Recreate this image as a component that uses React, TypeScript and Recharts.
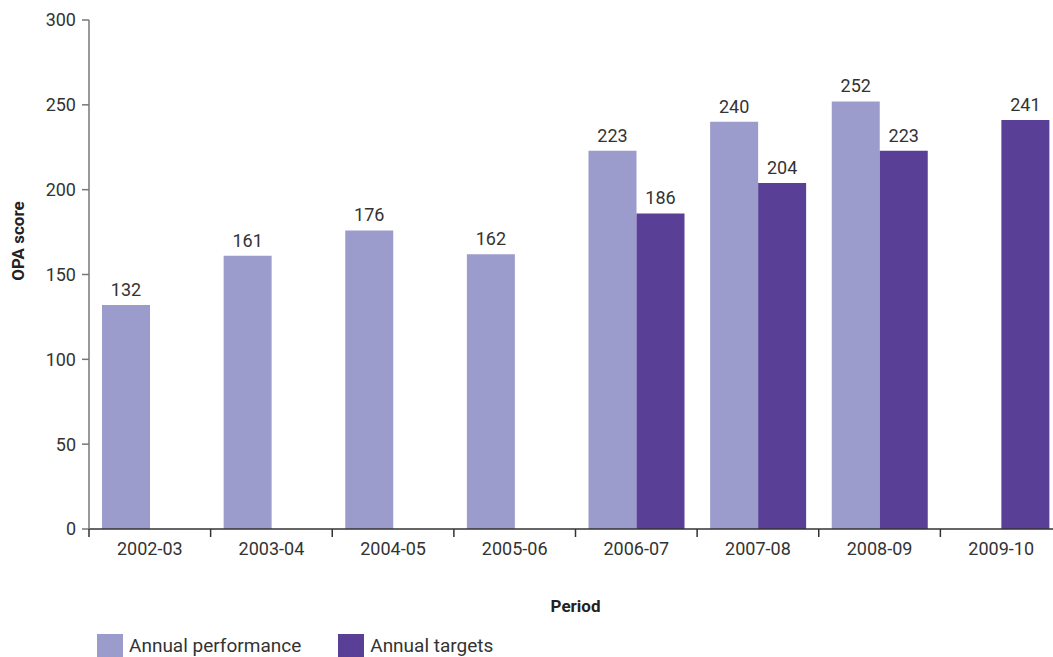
import { BarChart, Bar, XAxis, YAxis, LabelList } from 'recharts';

const periods = ['2002-03', '2003-04', '2004-05', '2005-06', '2006-07', '2007-08', '2008-09', '2009-10'];
const performance = [132, 161, 176, 162, 223, 240, 252, null];
const targets = [null, null, null, null, 186, 204, 223, 241];
const yTicks = [0, 50, 100, 150, 200, 250, 300];

const LIGHT = '#9b9ccc';
const DARK = '#5a3f97';
const TEXT = '#333333';
const FONT = 'Roboto, sans-serif';

const data = periods.map((period, i) => ({
  period,
  performance: performance[i],
  targets: targets[i],
}));

const TICK_SIZE = 8;
const TICK_MARGIN = 5;

const XTick = (props: any) => {
  const { x, y, payload } = props;
  const left = x - (payload.offset ?? 0);
  const axisY = y - TICK_SIZE - TICK_MARGIN;
  return (
    <g>
      <line x1={left} x2={left} y1={axisY} y2={axisY + TICK_SIZE} stroke={TEXT} strokeWidth={1.5} />
      <text x={x} y={y} dy="0.71em" textAnchor="middle" fill={TEXT} fontSize={18} fontFamily={FONT}>
        {payload.value}
      </text>
    </g>
  );
};

const YLabel = () => (
  <text
    x={18}
    y={241}
    transform="rotate(-90 18 241)"
    textAnchor="middle"
    dominantBaseline="central"
    fontSize={17}
    fontWeight={700}
    fontFamily={FONT}
    fill="#222"
  >
    OPA score
  </text>
);

const legendItems = [
  { name: 'Annual performance', color: LIGHT },
  { name: 'Annual targets', color: DARK },
];

export default function App() {
  return (
    <div style={{ position: 'fixed', left: 0, top: 0, width: 1053, height: 657, overflow: 'hidden', background: '#fff' }}>
      <BarChart
        width={1070}
        height={657}
        data={data}
        margin={{ top: 20, right: 8, left: 29, bottom: 38 }}
        barGap={0}
        barSize={48}
      >
        <XAxis
          dataKey="period"
          height={90}
          tick={<XTick />}
          tickLine={false}
          tickSize={TICK_SIZE}
          tickMargin={TICK_MARGIN}
          axisLine={{ stroke: TEXT, strokeWidth: 1.5 }}
          interval={0}
          label={{
            value: 'Period',
            position: 'insideBottom',
            offset: 7,
            fontSize: 17,
            fontWeight: 700,
            fontFamily: FONT,
            fill: '#222',
          }}
        />
        <YAxis
          width={60}
          domain={[0, 300]}
          ticks={yTicks}
          tickSize={7}
          tickMargin={6}
          axisLine={{ stroke: '#777', strokeWidth: 1.5 }}
          tickLine={{ stroke: '#777', strokeWidth: 1.5 }}
          tick={{ fill: TEXT, fontSize: 18, fontFamily: FONT }}
          label={{ content: () => <YLabel /> }}
        />
        <Bar dataKey="performance" name="Annual performance" fill={LIGHT} isAnimationActive={false}>
          <LabelList dataKey="performance" position="top" offset={9} fill={TEXT} fontSize={18} fontFamily={FONT} />
        </Bar>
        <Bar dataKey="targets" name="Annual targets" fill={DARK} isAnimationActive={false}>
          <LabelList dataKey="targets" position="top" offset={9} fill={TEXT} fontSize={18} fontFamily={FONT} />
        </Bar>
      </BarChart>
      <div
        style={{
          position: 'absolute',
          left: 97,
          top: 634,
          display: 'flex',
          alignItems: 'center',
          fontFamily: FONT,
          fontSize: 19,
          color: TEXT,
        }}
      >
        {legendItems.map((item) => (
          <span key={item.name} style={{ display: 'flex', alignItems: 'center', marginRight: 37 }}>
            <span style={{ width: 26, height: 23, background: item.color, marginRight: 6, display: 'inline-block' }} />
            {item.name}
          </span>
        ))}
      </div>
    </div>
  );
}
